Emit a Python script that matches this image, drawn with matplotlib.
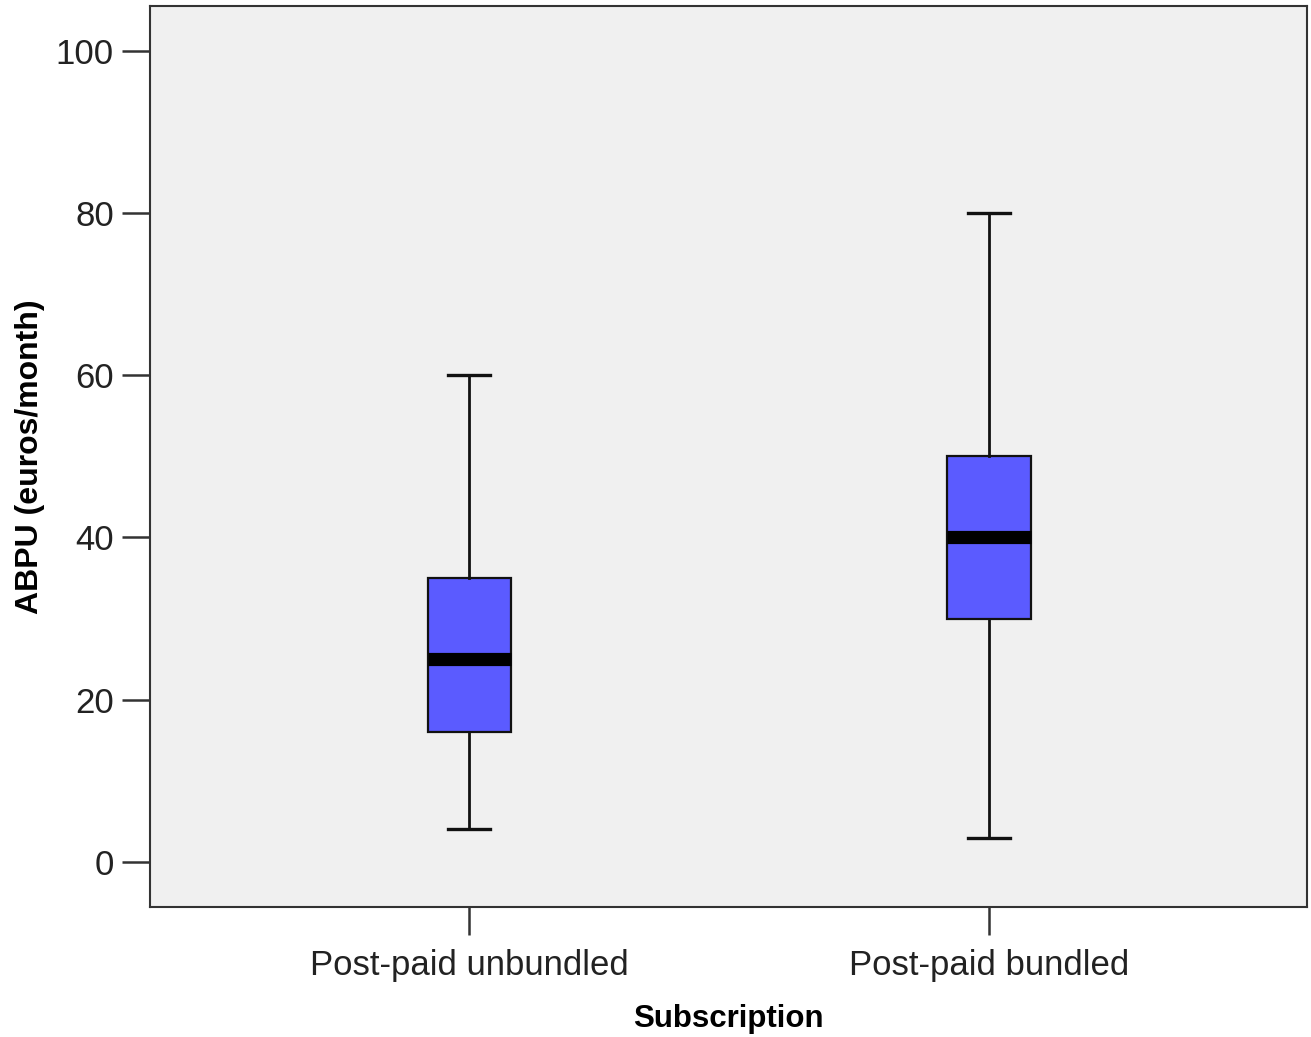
import matplotlib
import matplotlib.pyplot as plt

matplotlib.use("Agg")

categories = ["Post-paid unbundled", "Post-paid bundled"]
whisker_low = [4, 3]
q1 = [16, 30]
median = [25, 40]
q3 = [35, 50]
whisker_high = [60, 80]
y_ticks = [0, 20, 40, 60, 80, 100]

BOX_COLOR = "#5B5BFF"
TEXT_COLOR = "#222222"

plt.rcParams.update({
    "font.family": ["Liberation Sans", "DejaVu Sans"],
    "axes.edgecolor": "#333333",
    "axes.linewidth": 1.5,
})

stats = [
    {"whislo": lo, "q1": a, "med": m, "q3": b, "whishi": hi, "label": c, "fliers": []}
    for c, lo, a, m, b, hi in zip(categories, whisker_low, q1, median, q3, whisker_high)
]

fig = plt.figure(figsize=(13.11, 10.37), dpi=100)
ax = fig.add_axes([0.1144, 0.1254, 0.8826, 0.8688])
ax.set_facecolor("#F0F0F0")

positions = list(range(1, len(categories) + 1))
ax.bxp(
    stats, positions=positions, widths=0.16, capwidths=0.08, patch_artist=True,
    showfliers=False,
    boxprops={"facecolor": BOX_COLOR, "edgecolor": "#111111", "linewidth": 1.6},
    whiskerprops={"color": "#111111", "linewidth": 2.0},
    capprops={"color": "#111111", "linewidth": 2.4},
    medianprops={"color": "black", "linewidth": 9.5, "solid_capstyle": "butt"},
)

ax.set_xlim(0.386, 2.612)
ax.set_ylim(-5.55, 105.5)
ax.set_yticks(y_ticks)
ax.set_xticks(positions)
ax.set_xticklabels(categories)
ax.tick_params(axis="both", length=20, width=1.8, color="#333333",
               labelsize=25, labelcolor=TEXT_COLOR, pad=6)
ax.tick_params(axis="x", pad=10)

ax.set_ylabel("ABPU (euros/month)", fontsize=23, fontweight="bold", color="black", labelpad=8)
ax.set_xlabel("Subscription", fontsize=22.5, fontweight="bold", color="black", labelpad=16)

fig.savefig("out.png", dpi=100)
